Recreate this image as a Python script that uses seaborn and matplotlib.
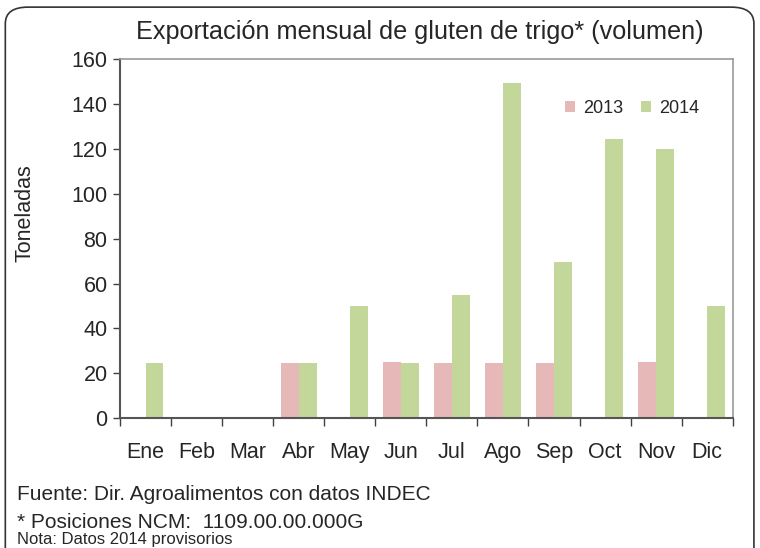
import pandas as pd
import matplotlib
matplotlib.use("Agg")
import matplotlib.pyplot as plt
import seaborn as sns
from matplotlib.patches import FancyBboxPatch

meses = ["Ene", "Feb", "Mar", "Abr", "May", "Jun", "Jul", "Ago", "Sep", "Oct", "Nov", "Dic"]
vol_2013 = [0, 0, 0, 24.5, 0, 25, 24.5, 24.5, 24.5, 0, 25, 0]
vol_2014 = [24.5, 0.4, 0, 24.5, 50, 24.5, 55, 149.3, 69.5, 124.3, 120, 50]

df = pd.DataFrame({
    "Mes": meses * 2,
    "Año": ["2013"] * 12 + ["2014"] * 12,
    "Toneladas": vol_2013 + vol_2014,
})

sns.set_theme(style="white")
plt.rcParams["font.family"] = ["Liberation Sans", "DejaVu Sans"]

fig = plt.figure(figsize=(7.6, 5.48), dpi=100)
ax = fig.add_axes([0.158, 0.237, 0.806, 0.655])

sns.barplot(data=df, x="Mes", y="Toneladas", hue="Año", order=meses,
            palette={"2013": "#E6B8B7", "2014": "#C4D79B"},
            width=0.7, saturation=1, linewidth=0, edgecolor="none",
            ax=ax, legend=True)

ax.set_ylim(0, 160)
ax.set_yticks(range(0, 161, 20))
ax.set_xlim(-0.5, 11.5)
ax.set_xlabel("")
ax.set_ylabel("Toneladas", fontsize=15.5)
ax.yaxis.set_label_coords(-0.138, 0.571)
ax.tick_params(axis="y", labelsize=15.5, length=5, width=1, color="#404040",
               left=True, direction="out", pad=4)
ax.tick_params(axis="x", labelsize=15.5, length=0, pad=17)
ax.set_xticks([i - 0.5 for i in range(13)], minor=True)
ax.tick_params(axis="x", which="minor", length=6, width=1, color="#404040",
               bottom=True, direction="out")

for side in ["left", "bottom"]:
    ax.spines[side].set_color("#555555")
    ax.spines[side].set_linewidth(1.5)
for side in ["top", "right"]:
    ax.spines[side].set_color("#999999")
    ax.spines[side].set_linewidth(1.2)

ax.legend(loc="center right", bbox_to_anchor=(0.96, 0.862), ncol=2, frameon=False,
          fontsize=13, handlelength=0.55, handleheight=0.55, handletextpad=0.45,
          columnspacing=1.0, borderpad=0)

fig.text(0.553, 0.942, "Exportación mensual de gluten de trigo* (volumen)",
         ha="center", va="center", fontsize=18.2)
fig.text(0.022, 0.098, "Fuente: Dir. Agroalimentos con datos INDEC", fontsize=15, va="center")
fig.text(0.022, 0.047, "* Posiciones NCM:  1109.00.00.000G", fontsize=15, va="center")
fig.text(0.022, 0.016, "Nota: Datos 2014 provisorios", fontsize=12, va="center")

frame = FancyBboxPatch((0.007, -0.05), 0.985, 1.037, transform=fig.transFigure,
                       boxstyle="round,pad=0,rounding_size=0.03",
                       fill=False, edgecolor="#333333", linewidth=1.2)
fig.patches.append(frame)

fig.savefig("out.png", dpi=100)
